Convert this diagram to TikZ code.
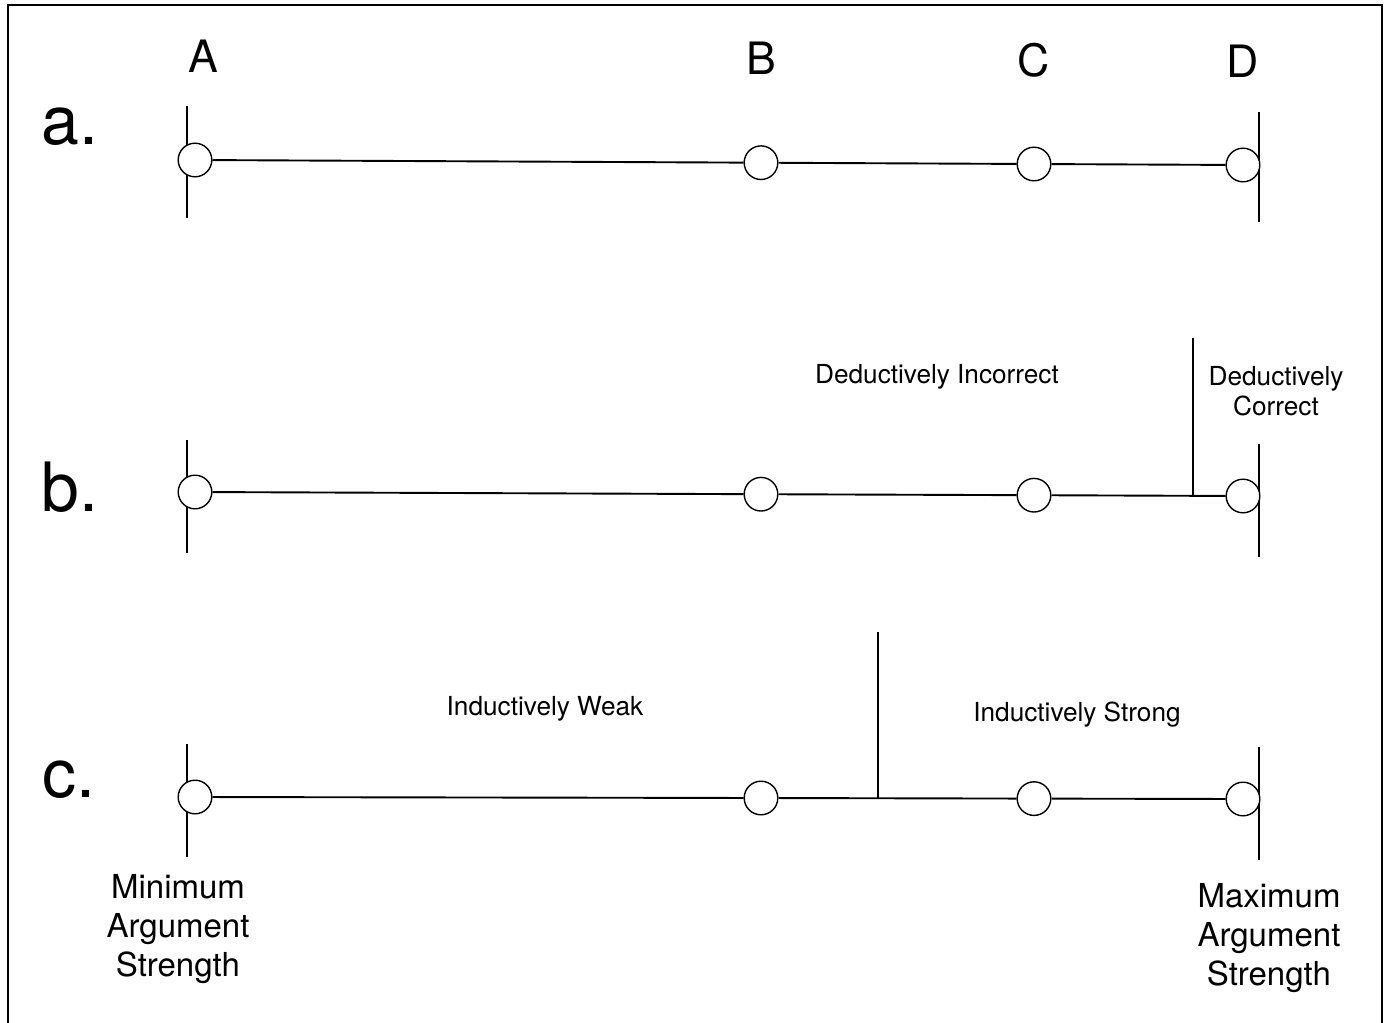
\documentclass[tikz,border=0pt]{standalone}
\usepackage{fontspec}
\setmainfont{TeX Gyre Heros}
\begin{document}
\begin{tikzpicture}[x=0.5pt,y=-0.5pt,
  pnt/.style={circle,draw,fill=white,line width=0.7pt,minimum size=16.8pt,inner sep=0pt},
  axisline/.style={line width=0.95pt},
  tickline/.style={line width=0.95pt},
  rowlbl/.style={font=\fontsize{34}{40}\selectfont,inner sep=0pt,anchor=base},
  ptlbl/.style={font=\fontsize{22.3}{26}\selectfont,inner sep=0pt,anchor=base},
  zonelbl/.style={font=\fontsize{13.1}{15}\selectfont,inner sep=0pt,align=center},
  endlbl/.style={font=\fontsize{16.5}{19.5}\selectfont,inner sep=0pt,align=center},
  frameline/.style={line width=0.75pt}]
\useasboundingbox (0,0) rectangle (1389,1023);
\fill[white] (0,0) rectangle (1389,1023);
% frame
\coordinate (f1) at (8,1023);
\coordinate (f2) at (8,5);
\coordinate (f3) at (1382,5);
\coordinate (f4) at (1382,1023);
\draw[frameline] (f1) -- (f2) -- (f3) -- (f4);

% point labels
\node[ptlbl] (lA) at (203,72) {A};
\node[ptlbl] (lB) at (761,74) {B};
\node[ptlbl] (lC) at (1034,76) {C};
\node[ptlbl] (lD) at (1243,77) {D};

% row labels
\node[rowlbl] (ra) at (70,144) {a.};
\node[rowlbl] (rb) at (70,511) {b.};
\node[rowlbl] (rc) at (69,797) {c.};

% ---------- row a ----------
\coordinate (aLt) at (187,106);
\coordinate (aLb) at (187,218);
\coordinate (aRt) at (1259,112);
\coordinate (aRb) at (1259,222);
\draw[tickline] (aLt) -- (aLb);
\draw[tickline] (aRt) -- (aRb);
\node[pnt] (aA) at (195,160) {};
\node[pnt] (aB) at (761,162.7) {};
\node[pnt] (aC) at (1034,164) {};
\node[pnt] (aD) at (1243,165) {};
\draw[axisline] (aA) -- (aB);
\draw[axisline] (aB) -- (aC);
\draw[axisline] (aC) -- (aD);

% ---------- row b ----------
\coordinate (bLt) at (187,440);
\coordinate (bLb) at (187,553);
\coordinate (bRt) at (1259,444);
\coordinate (bRb) at (1259,557);
\draw[tickline] (bLt) -- (bLb);
\draw[tickline] (bRt) -- (bRb);
\coordinate (bDt) at (1193,338);
\coordinate (bDb) at (1193,496);
\draw[tickline] (bDt) -- (bDb);
\node[pnt] (bA) at (195,492) {};
\node[pnt] (bB) at (761,494.2) {};
\node[pnt] (bC) at (1034,495.2) {};
\node[pnt] (bD) at (1243,496) {};
\draw[axisline] (bA) -- (bB);
\draw[axisline] (bB) -- (bC);
\draw[axisline] (bC) -- (bD);
\node[zonelbl,anchor=base] (bInc) at (937,383) {Deductively Incorrect};
\node[zonelbl] (bCor) at (1276,391) {Deductively\\Correct};

% ---------- row c ----------
\coordinate (cLt) at (187,744);
\coordinate (cLb) at (187,857);
\coordinate (cRt) at (1259,747);
\coordinate (cRb) at (1259,860);
\draw[tickline] (cLt) -- (cLb);
\draw[tickline] (cRt) -- (cRb);
\coordinate (cDt) at (878,632);
\coordinate (cDb) at (878,798.3);
\draw[tickline] (cDt) -- (cDb);
\node[pnt] (cA) at (195,797) {};
\node[pnt] (cB) at (761,798) {};
\node[pnt] (cC) at (1034,798.6) {};
\node[pnt] (cD) at (1243,799) {};
\draw[axisline] (cA) -- (cB);
\draw[axisline] (cB) -- (cC);
\draw[axisline] (cC) -- (cD);
\node[zonelbl,anchor=base] (cWeak) at (545,715) {Inductively Weak};
\node[zonelbl,anchor=base] (cStrong) at (1077,721) {Inductively Strong};

% end labels
\node[endlbl] (minS) at (178,929) {Minimum\\Argument\\Strength};
\node[endlbl] (maxS) at (1269,938) {Maximum\\Argument\\Strength};
\end{tikzpicture}
\end{document}
